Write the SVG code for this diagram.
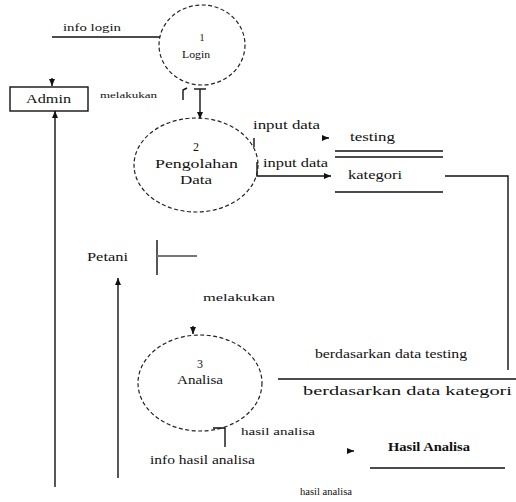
<svg xmlns="http://www.w3.org/2000/svg" width="516" height="502" viewBox="0 0 516 502">
<defs>
<marker id="ah" markerWidth="8" markerHeight="8" refX="7" refY="4" orient="auto" markerUnits="userSpaceOnUse">
<path d="M0,1 L7,4 L0,7 Z" fill="#111"/>
</marker>
<style>
.proc{fill:none;stroke:#222;stroke-width:1.2;stroke-dasharray:4 2.5}
.ln{fill:none;stroke:#111;stroke-width:1.4}
.t{font-family:"Liberation Serif",serif;fill:#111}
.s{font-size:10px}
.m{font-size:12px}
</style>
</defs>
<rect width="516" height="502" fill="#fff"/>
<g id="connectors">
<line class="ln" x1="52" y1="37" x2="160" y2="37"/>
<line class="ln" x1="52" y1="78" x2="52" y2="86" marker-end="url(#ah)"/>
<line class="ln" x1="55" y1="487" x2="55" y2="111" marker-end="url(#ah)"/>
<path class="ln" d="M183,100 L183,90 L187,88"/>
<line class="ln" x1="194" y1="89" x2="206" y2="89"/>
<line class="ln" x1="200" y1="89" x2="200" y2="119" marker-end="url(#ah)"/>
<line class="ln" x1="254" y1="138" x2="254" y2="147"/>
<line class="ln" x1="322" y1="138" x2="329" y2="138" marker-end="url(#ah)"/>
<path class="ln" d="M257,162 L257,176 L331,176" marker-end="url(#ah)"/>
<path class="ln" d="M445,176 L508,176 L508,370"/>
<line class="ln" x1="278" y1="379" x2="516" y2="379"/>
<line class="ln" x1="157" y1="240" x2="157" y2="275"/>
<line x1="157" y1="256" x2="197" y2="256" stroke="#777" stroke-width="2"/>
<line class="ln" x1="118" y1="478" x2="118" y2="278" marker-end="url(#ah)"/>
<line class="ln" x1="193" y1="326" x2="193" y2="334" marker-end="url(#ah)"/>
<path class="ln" d="M213,428 L225,428 L225,447"/>
<line class="ln" x1="347" y1="451" x2="354" y2="451" marker-end="url(#ah)"/>
</g>
<g id="login">
<ellipse class="proc" cx="202" cy="45" rx="43" ry="40"/>
<text class="t s" x="202" y="41" text-anchor="middle">1</text>
<text class="t s" x="182" y="58" textLength="28" lengthAdjust="spacingAndGlyphs">Login</text>
</g>
<g id="admin">
<rect x="10" y="87" width="78" height="24" fill="none" stroke="#111" stroke-width="1.4"/>
<text class="t m" x="26" y="103" textLength="45" lengthAdjust="spacingAndGlyphs">Admin</text>
</g>
<g id="pengolahan">
<ellipse class="proc" cx="196" cy="165" rx="62" ry="47"/>
<text class="t m" x="196" y="151" text-anchor="middle">2</text>
<text class="t m" x="155" y="168" textLength="83" lengthAdjust="spacingAndGlyphs">Pengolahan</text>
<text class="t m" x="180" y="184" textLength="32" lengthAdjust="spacingAndGlyphs">Data</text>
</g>
<g id="testing">
<text class="t m" x="350" y="141" textLength="45" lengthAdjust="spacingAndGlyphs">testing</text>
<line class="ln" x1="335" y1="151" x2="443" y2="151"/>
<line class="ln" x1="335" y1="157" x2="443" y2="157"/>
</g>
<g id="kategori">
<text class="t m" x="348" y="179" textLength="54" lengthAdjust="spacingAndGlyphs">kategori</text>
<line class="ln" x1="335" y1="192" x2="443" y2="192"/>
</g>
<g id="petani">
<text class="t m" x="87" y="261" textLength="41" lengthAdjust="spacingAndGlyphs">Petani</text>
</g>
<g id="analisa">
<ellipse class="proc" cx="200" cy="383" rx="62" ry="48"/>
<text class="t m" x="200" y="368" text-anchor="middle">3</text>
<text class="t m" x="177" y="384" textLength="46" lengthAdjust="spacingAndGlyphs">Analisa</text>
</g>
<g id="hasil-analisa">
<text class="t m" x="388" y="451" font-weight="bold" textLength="82" lengthAdjust="spacingAndGlyphs">Hasil Analisa</text>
<line class="ln" x1="370" y1="468" x2="505" y2="468"/>
</g>
<g id="labels">
<text class="t s" x="63" y="31" textLength="58" lengthAdjust="spacingAndGlyphs">info login</text>
<text class="t" font-size="9" x="100" y="98" textLength="57" lengthAdjust="spacingAndGlyphs">melakukan</text>
<text class="t m" x="253" y="129" textLength="67" lengthAdjust="spacingAndGlyphs">input data</text>
<text class="t m" x="263" y="167" textLength="65" lengthAdjust="spacingAndGlyphs">input data</text>
<text class="t s" x="203" y="301" textLength="72" lengthAdjust="spacingAndGlyphs">melakukan</text>
<text class="t m" x="315" y="358" textLength="152" lengthAdjust="spacingAndGlyphs">berdasarkan data testing</text>
<text class="t m" x="303" y="395" textLength="209" lengthAdjust="spacingAndGlyphs">berdasarkan data kategori</text>
<text class="t s" x="241" y="435" textLength="74" lengthAdjust="spacingAndGlyphs">hasil analisa</text>
<text class="t m" x="150" y="464" textLength="105" lengthAdjust="spacingAndGlyphs">info hasil analisa</text>
<text class="t s" x="300" y="495" textLength="52" lengthAdjust="spacingAndGlyphs">hasil analisa</text>
</g>
</svg>
